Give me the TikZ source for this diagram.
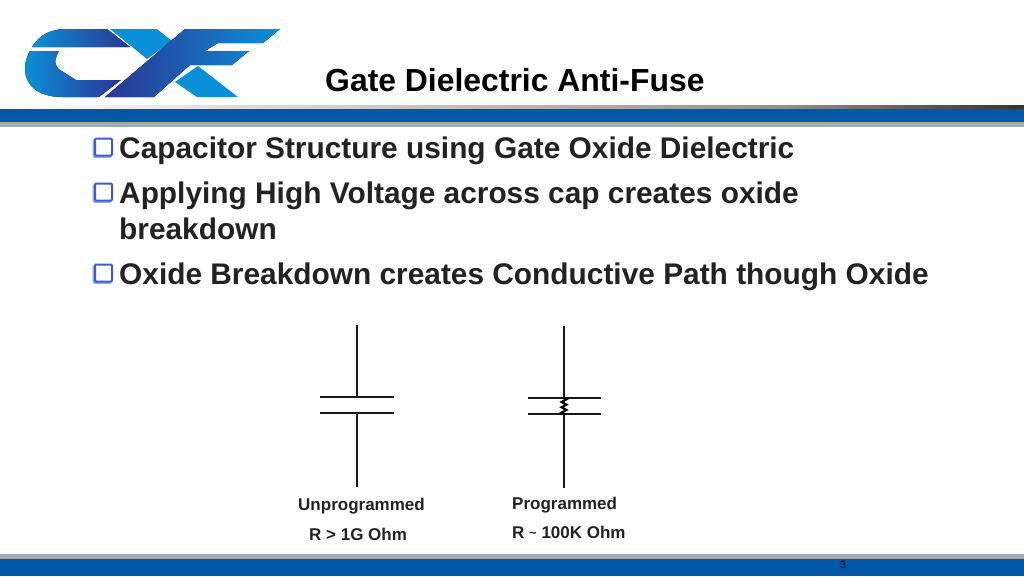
\documentclass[tikz,border=0pt]{standalone}
\usepackage{fontspec}
\setmainfont{Liberation Sans}
\usetikzlibrary{decorations.pathmorphing,shadows}
\definecolor{barblue}{HTML}{0058A6}
\definecolor{bargray}{HTML}{A3A9AD}
\definecolor{bartop}{HTML}{8A939B}
\definecolor{logocyan}{HTML}{0A90D8}
\definecolor{logodark}{HTML}{2A3592}
\definecolor{bulletblue}{HTML}{3A5FCD}
\definecolor{bodytext}{HTML}{222222}
\definecolor{pagetext}{HTML}{001A40}
\tikzset{
  bodyline/.style={anchor=base west, inner sep=0pt, text=bodytext, font=\bfseries\fontsize{29.85}{29.85}\selectfont},
  lbl/.style={anchor=base west, inner sep=0pt, text=bodytext, font=\bfseries\fontsize{17}{17}\selectfont},
  bulletbox/.style={draw=bulletblue, fill=white, line width=2pt, rounded corners=1pt, minimum size=17pt, inner sep=0pt,
    copy shadow={shadow xshift=-1.4pt, shadow yshift=-1.4pt, draw=bulletblue!55, fill=white}},
  wire/.style={line width=2.7pt, black!90},
}
\begin{document}
\begin{tikzpicture}[x=1pt, y=-1pt]
\useasboundingbox (0,0) rectangle (1024,576);

% logo
\fill[left color=logocyan, right color=logodark]
  (32,47) .. controls (40,34) and (52,29) .. (66,29) -- (107,29) -- (130,47) -- cycle;
\fill[logocyan] (110,29) -- (157,29) -- (172,41) -- (147,59) -- cycle;
\fill[left color=logocyan, right color=logodark]
  (30,51) -- (59,51) .. controls (54,60) and (54,66) .. (60,70) -- (76,80)
  -- (121,80) -- (99,97) -- (62,97) .. controls (38,97) and (25,85) .. (25,69) .. controls (25,62) and (27,56) .. (30,51) -- cycle;
\fill[left color=logodark, right color=logocyan]
  (105,97) -- (185,29) -- (280,29) -- (263,43) -- (218,43) -- (205,51) -- (249,51) -- (232,65) -- (190,65) -- (154,97) -- cycle;
\fill[logocyan] (198,66) -- (238,97) -- (197,97) -- (175,82) -- cycle;

% title
\node[anchor=base west, inner sep=0pt, font=\bfseries\fontsize{31.9}{31.9}\selectfont] (title) at (325,91) {Gate Dielectric Anti-Fuse};

% header band
\shade[left color=white, right color=bartop] (0,105.5) rectangle (780,109);
\shade[left color=bartop, right color=black!80] (780,105.5) rectangle (1024,109);
\fill[barblue] (0,109) rectangle (1024,122);
\fill[bargray] (0,122) rectangle (1024,126.5);

% bullets
\node[bulletbox] (bulleta) at (103.5,147) {};
\node[bulletbox] (bulletb) at (103.5,192) {};
\node[bulletbox] (bulletc) at (103.5,273) {};

\node[bodyline] (linea) at (119,158) {Capacitor Structure using Gate Oxide Dielectric};
\node[bodyline] (lineb) at (119,203) {Applying High Voltage across cap creates oxide};
\node[bodyline] (linec) at (119,239) {breakdown};
\node[bodyline] (lined) at (119,284) {Oxide Breakdown creates Conductive Path though Oxide};

% unprogrammed cap
\coordinate (utop) at (357,325);
\coordinate (ua) at (357,397);
\coordinate (ub) at (357,413);
\coordinate (ubot) at (357,487);
\draw[wire] (utop) -- (ua);
\draw[wire] (ub) -- (ubot);
\draw[wire] (320,397) -- (394,397);
\draw[wire] (320,413) -- (394,413);

% programmed cap
\coordinate (ptop) at (564,326);
\coordinate (pa) at (564,398);
\coordinate (pb) at (564,414);
\coordinate (pbot) at (564,488);
\draw[wire] (ptop) -- (pa);
\draw[wire] (pb) -- (pbot);
\draw[wire] (528,398) -- (601,398);
\draw[wire] (528,414) -- (601,414);
\draw[line width=2.2pt, black, decorate, decoration={zigzag, amplitude=2.4pt, segment length=5.3pt}] (pa) -- (pb);

\node[lbl] (ulabel) at (298,510) {Unprogrammed};
\node[lbl] (uvalue) at (309,540) {R > 1G Ohm};
\node[lbl] (plabel) at (512,509) {Programmed};
\node[lbl] (pvalue) at (512,538) {R {\fontsize{13}{13}\selectfont\raisebox{1pt}{\textasciitilde}} 100K Ohm};

% footer band
\fill[bargray] (0,554) rectangle (1024,559);
\fill[barblue] (0,559) rectangle (1024,576);
\node[inner sep=0pt, text=pagetext, font=\bfseries\fontsize{11}{11}\selectfont] (pagenum) at (843,564.5) {3};

\end{tikzpicture}
\end{document}
